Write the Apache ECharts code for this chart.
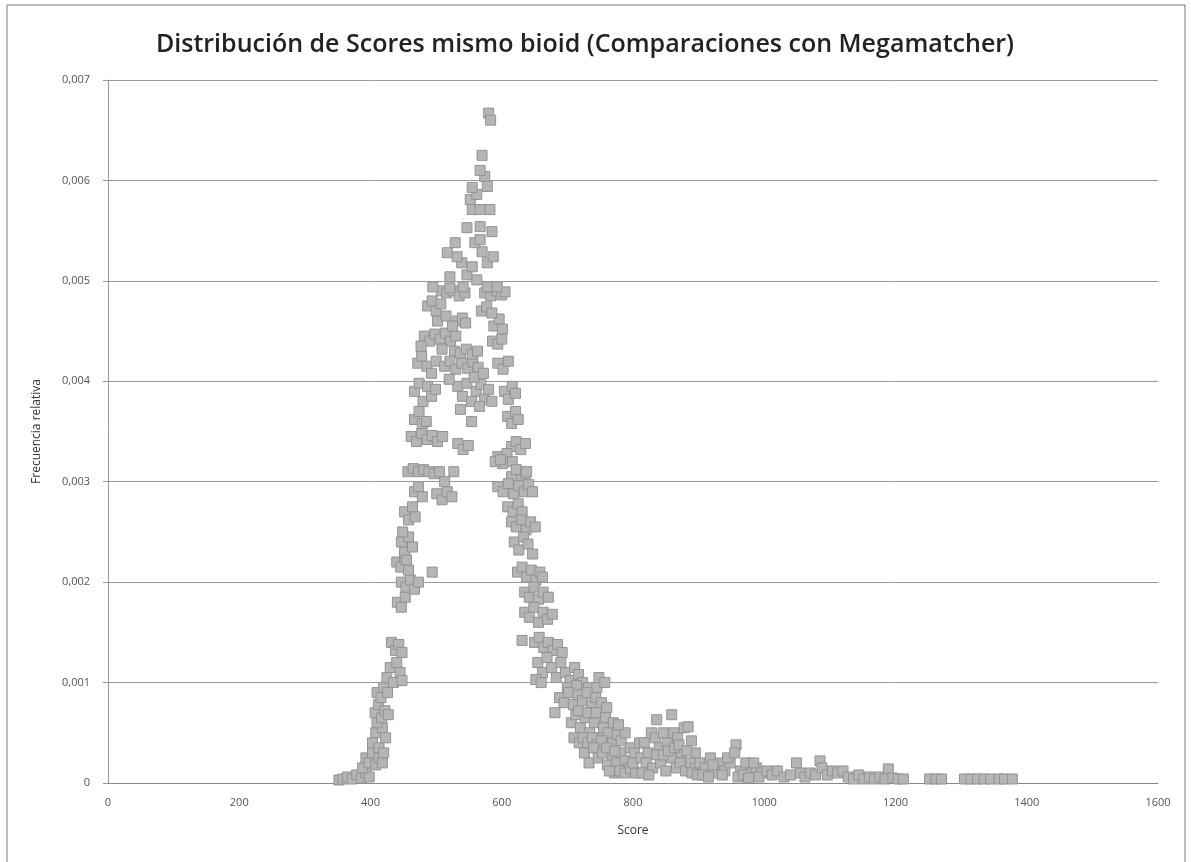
<!DOCTYPE html>
<html style="height: 100%">
<head>
<meta charset="utf-8">
<script src="https://cdn.jsdelivr.net/npm/echarts/dist/echarts.min.js"></script>
</head>
<body style="height: 100%; margin: 0; background: #fff">
<div id="chart" style="width: 1191px; height: 862px;"></div>
<script type="text/javascript">
// eje Y (frecuencia relativa)
var yTicks = [0, 0.001, 0.002, 0.003, 0.004, 0.005, 0.006, 0.007];
var xTicks = [0, 200, 400, 600, 800, 1000, 1200, 1400, 1600];

// subida izquierda [score, frecuencia]
var rise = [
  [352,0.00003],[358,0.00004],[365,0.00006],[372,0.00004],[379,0.00008],[386,0.00005],[393,0.0001],[398,0.00006],
  [388,0.00015],[393,0.00025],[398,0.0002],[403,0.0003],[408,0.00018],[413,0.00025],[418,0.0002],
  [403,0.0004],[408,0.0005],[413,0.00035],[418,0.00055],[423,0.00045],[410,0.0006],[420,0.0003],
  [407,0.0007],[412,0.00078],[417,0.00065],[422,0.00072],[427,0.00068],
  [410,0.0009],[416,0.00085],[420,0.00095],[426,0.0009],
  [425,0.00105],[430,0.00115],[435,0.001],[440,0.0012],[445,0.0011],[448,0.00102],
  [432,0.0014],[438,0.00132],[443,0.00138],[448,0.0013],
  [441,0.0018],[447,0.00175],[453,0.00185],
  [447,0.002],[454,0.00195],[461,0.00202],[467,0.00193],[473,0.002],
  [440,0.0022],[446,0.00215],[452,0.00225],[458,0.00212],
  [447,0.0024],[452,0.0023],[458,0.00245],[464,0.00235],[449,0.0025],[455,0.00222],
  [452,0.0027],[458,0.00262],[464,0.00275],[468,0.00265],
  [467,0.0029],[473,0.00295],[479,0.00285],
  [494,0.0021]
];

// zona central
var body = [
  [457,0.0031],[465,0.00313],[473,0.0031],[481,0.00312],[489,0.0031],[497,0.00308],[505,0.0031],[527,0.0031],
  [513,0.003],
  [501,0.00288],[509,0.00282],[517,0.0029],[524,0.00285],
  [462,0.00345],[470,0.0034],[478,0.00348],[486,0.00342],[494,0.00346],[502,0.0034],[510,0.00345],
  [533,0.00338],[541,0.00332],[549,0.00336],
  [467,0.00362],[474,0.0037],[479,0.00358],[554,0.0036],[485,0.0036],
  [467,0.0039],[474,0.00398],[480,0.0038],[487,0.00395],[493,0.00385],[499,0.00392],
  [533,0.00395],[540,0.00385],[547,0.00398],[554,0.0038],[561,0.0039],[568,0.00397],[574,0.00382],[580,0.00392],
  [537,0.00372],[566,0.00375],[585,0.0038],
  [604,0.0039],[610,0.00382],[616,0.00395],[621,0.00388],
  [472,0.00418],[478,0.00425],[486,0.00415],[493,0.00408],[500,0.0042],
  [513,0.00415],[521,0.0042],[530,0.00412],[539,0.00418],[548,0.00413],[556,0.00419],[564,0.00414],
  [520,0.00402],[558,0.00404],[572,0.00408],
  [594,0.00418],[602,0.00412],[610,0.0042],
  [528,0.0043],[537,0.00428],[546,0.00432],[555,0.00427],[563,0.0043],
  [482,0.00445],[490,0.0044],[498,0.00447],[506,0.00442],[514,0.00448],[522,0.0044],[530,0.00445],
  [477,0.00435],[509,0.00432],
  [586,0.0044],[594,0.00437],[600,0.00442],
  [502,0.0046],[532,0.0046],[540,0.00463],[545,0.00458],[515,0.00465],[525,0.00455],
  [588,0.00455],[596,0.00462],[601,0.00452],
  [487,0.00475],[494,0.0048],[500,0.0047],[507,0.00477],
  [569,0.0047],[577,0.00474],[585,0.00468],
  [508,0.0049],[516,0.00488],[526,0.0049],[535,0.00485],[544,0.00488],
  [574,0.00488],[583,0.00485],[592,0.0049],[600,0.00486],[605,0.00489]
];

// pico
var peak = [
  [495,0.00494],[521,0.00493],[541,0.00494],[578,0.00494],[593,0.00494],
  [521,0.00504],[547,0.00506],[562,0.00501],
  [539,0.00518],[555,0.00514],[578,0.00518],
  [517,0.00528],[532,0.00524],[570,0.00529],[587,0.00524],
  [529,0.00538],[559,0.00538],[567,0.00541],
  [547,0.00553],[567,0.00554],[585,0.00549],
  [555,0.00571],[567,0.00571],[582,0.00571],
  [552,0.00581],[562,0.00586],[555,0.00593],[578,0.00594],
  [574,0.00604],[567,0.0061],[570,0.00625],
  [580,0.00667],[583,0.0066]
];

// bajada derecha
var fall = [
  [609,0.00365],[615,0.00358],[621,0.0037],[625,0.00362],
  [615,0.00335],[622,0.0034],[629,0.00332],[636,0.00338],
  [594,0.00325],[601,0.00318],[608,0.00328],[616,0.0032],[590,0.0032],[598,0.00322],
  [615,0.00305],[622,0.00312],[630,0.00302],[636,0.00308],[638,0.0031],
  [594,0.00295],[602,0.0029],[610,0.00298],[618,0.00288],[626,0.00296],[634,0.0029],[641,0.00297],[647,0.0029],
  [609,0.00275],[617,0.0027],[625,0.00278],[631,0.0027],
  [615,0.0026],[622,0.00255],[630,0.00262],[637,0.00252],[644,0.0026],[651,0.00255],
  [619,0.0024],[626,0.00232],[633,0.00245],[640,0.00238],[647,0.00228],
  [624,0.0021],[631,0.00215],[638,0.00205],[645,0.00212],[652,0.00202],[658,0.0021],[662,0.00205],
  [635,0.0019],[642,0.00185],[649,0.00195],[656,0.00183],[663,0.0019],[671,0.00185],
  [635,0.0017],[642,0.00165],[649,0.00175],[656,0.0016],[663,0.0017],[670,0.00163],[677,0.00168],
  [631,0.00142],
  [650,0.0014],[657,0.00145],[664,0.00135],[671,0.0014],[678,0.00132],[685,0.00138],[692,0.0013],
  [655,0.0012],[662,0.0011],[669,0.00125],[676,0.00115],[683,0.00105],[690,0.0012],[697,0.0011],
  [704,0.00102],[711,0.00115],[717,0.00108],[723,0.001],[652,0.00103],[660,0.001],
  [700,0.00095],[714,0.00097],[732,0.00095],
  [745,0.00095],[748,0.00105],[757,0.001],
  [681,0.0007],[688,0.00085],[695,0.0008],[702,0.0009],[709,0.00078],[716,0.00088],[723,0.00082],
  [730,0.0009],[737,0.0008],[743,0.00085],[752,0.0008],[760,0.00075],
  [706,0.0006],[713,0.00068],[720,0.00055],[727,0.00065],[734,0.0005],[741,0.0006],[748,0.00045],
  [755,0.00055],[762,0.0005],[769,0.0004],[776,0.00048],[782,0.00042],[788,0.0005],
  [717,0.00072],[731,0.0007],[744,0.0007],[758,0.00065],[770,0.0006],[778,0.00058],
  [710,0.00045],[718,0.0004],[724,0.00045],[731,0.0004],[738,0.00045],[745,0.00038],[752,0.00042],
  [726,0.0003],[733,0.0002],[740,0.00035],[747,0.00025],[754,0.0003],[761,0.00018],[768,0.00028],
  [775,0.0002],[782,0.0003],[788,0.00022],[793,0.00015],[760,0.00035],[772,0.00032],[796,0.00035],[802,0.0003],
  [772,0.0001],[780,0.00012],[788,0.0001],[796,0.00014],[804,0.0001],[764,0.00012],[800,0.0002],
  [810,0.0004],[812,0.00025],[817,0.0004],[823,0.0003],[828,0.0005],[834,0.00045],[836,0.00063],
  [840,0.00035],[846,0.0005],[852,0.0004],[859,0.00068],[862,0.0005],[868,0.00045],[874,0.0003],
  [878,0.00055],[884,0.00056],[889,0.00042],[895,0.0003],
  [820,0.0002],[830,0.00015],[842,0.0002],[850,0.00012],[858,0.00025],[866,0.00015],[872,0.0002],
  [880,0.00012],[888,0.0002],[895,0.00015],
  [814,0.0001],[824,0.00008],[836,0.00028],[846,0.00028],[854,0.00032],[863,0.00035],[870,0.00038],
  [882,0.00032],[890,0.0001],[898,0.00008]
];

// cola
var tail = [
  [902,0.0002],[910,0.00015],[918,0.00025],[925,0.0001],[932,0.0002],[940,0.00012],[948,0.0002],
  [906,0.00008],[915,0.00006],[922,0.00018],[936,0.00008],[944,0.00025],
  [957,0.00038],[955,0.0003],[964,0.00012],[972,0.0002],[980,0.0001],[988,0.00015],[996,0.0001],
  [960,0.00006],[968,0.00008],[976,0.00005],[984,0.0002],[992,0.00006],
  [1004,0.00012],[1012,0.00008],[1020,0.00012],[1030,0.00006],[1040,0.00008],[1049,0.0002],
  [1055,0.0001],[1062,0.00006],[1070,0.0001],[1078,0.00008],[1085,0.00022],[1088,0.00015],
  [1096,0.00008],[1104,0.00012],[1112,0.0001],[1120,0.00012],[1128,0.00006],[1136,0.00004],
  [1144,0.00008],[1152,0.00004],[1160,0.00006],[1168,0.00004],[1176,0.00006],[1184,0.00004],
  [1189,0.00014],[1196,0.00005],[1204,0.00004],[1212,0.00004],
  [1252,0.00004],[1262,0.00004],[1270,0.00004],
  [1305,0.00004],[1315,0.00004],[1325,0.00004],[1335,0.00004],[1345,0.00004],[1358,0.00004],
  [1366,0.00004],[1378,0.00004]
];

var points = rise.concat(body, peak, fall, tail);

var dom = document.getElementById("chart");
var myChart = echarts.init(dom);
var option = {
    backgroundColor: '#fff',
    animation: false,
    title: {
        text: 'Distribución de Scores mismo bioid (Comparaciones con Megamatcher)',
        left: 580,
        textAlign: 'center',
        top: 27,
        textStyle: {
            fontFamily: 'Open Sans',
            fontWeight: 600,
            fontSize: 25,
            color: '#222'
        }
    },
    graphic: [{
        type: 'rect',
        shape: {x: 7, y: 5, width: 1178, height: 870},
        style: {fill: null, stroke: '#777', lineWidth: 1},
        silent: true
    }],
    grid: {
        left: 108,
        right: 33,
        top: 80,
        bottom: 79
    },
    xAxis: {
        type: 'value',
        min: xTicks[0],
        max: xTicks[xTicks.length - 1],
        interval: 200,
        name: 'Score',
        nameLocation: 'middle',
        nameGap: 42,
        nameTextStyle: {fontFamily: 'Open Sans', fontSize: 12, color: '#333'},
        axisLine: {lineStyle: {color: '#888'}},
        axisTick: {show: false},
        axisLabel: {
            margin: 14,
            fontFamily: 'Open Sans',
            fontSize: 11,
            color: '#555',
            formatter: function (v) { return String(v); }
        },
        splitLine: {show: false}
    },
    yAxis: {
        type: 'value',
        min: yTicks[0],
        max: yTicks[yTicks.length - 1],
        interval: 0.001,
        name: 'Frecuencia relativa',
        nameLocation: 'middle',
        nameGap: 65,
        nameTextStyle: {fontFamily: 'Open Sans', fontSize: 12, color: '#333'},
        axisLine: {show: true, lineStyle: {color: '#999'}},
        axisTick: {show: true, length: 5, lineStyle: {color: '#999'}},
        axisLabel: {
            margin: 18,
            fontFamily: 'Open Sans',
            fontSize: 11,
            color: '#555',
            formatter: function (v) {
                return v === 0 ? '0' : v.toFixed(3).replace('.', ',');
            }
        },
        splitLine: {lineStyle: {color: '#999', width: 1}}
    },
    series: [{
        type: 'scatter',
        symbol: 'rect',
        symbolSize: 10,
        itemStyle: {
            color: '#b5b5b5',
            borderColor: '#939393',
            borderWidth: 1,
            opacity: 1
        },
        data: points
    }]
};
myChart.setOption(option);
</script>
</body>
</html>
